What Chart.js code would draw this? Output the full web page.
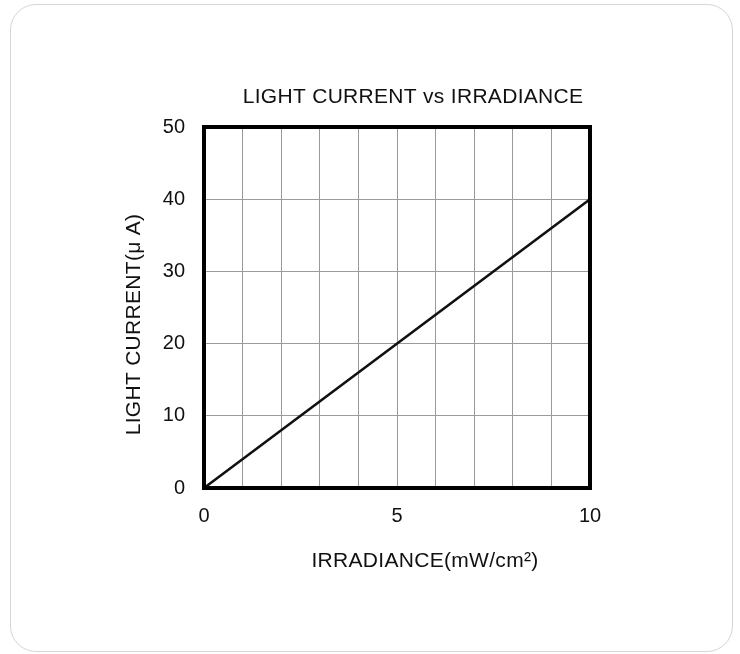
<!DOCTYPE html>
<html>
<head>
<meta charset="utf-8">
<script src="https://cdn.jsdelivr.net/npm/chart.js@4/dist/chart.umd.min.js"></script>
<style>
  html, body { margin:0; padding:0; background:#fff; }
  #wrap { position:relative; width:740px; height:654px; overflow:hidden; }
  #card { position:absolute; left:10px; top:4px; width:721px; height:646px;
          border:1.5px solid #d6d6d6; border-radius:26px; background:#fff; }
  #c { position:absolute; left:0; top:0; }
</style>
</head>
<body>
<div id="wrap">
  <div id="card"></div>
  <canvas id="c" width="740" height="654"></canvas>
</div>
<script>
const chartTitle = 'LIGHT CURRENT vs IRRADIANCE';
const xTitle = 'IRRADIANCE(mW/cm²)';
const yTitle = 'LIGHT CURRENT(μ A)';
const irradiance = [0, 10];        // mW/cm²
const lightCurrent = [0, 40];      // μA
const xTickLabels = [0, 5, 10];
const yTickLabels = [0, 10, 20, 30, 40, 50];

const FONT = "'Liberation Sans', Arial, sans-serif";
const TXT = '#111';

const framePlugin = {
  id: 'frameAndTexts',
  afterDatasetsDraw(chart) {
    const {ctx, chartArea: a} = chart;
    ctx.save();
    ctx.strokeStyle = '#000';
    ctx.lineWidth = 4;
    ctx.lineJoin = 'miter';
    ctx.strokeRect(a.left, a.top, a.right - a.left, a.bottom - a.top);
    ctx.restore();
  },
  afterDraw(chart) {
    const {ctx, chartArea: a} = chart;
    ctx.save();
    ctx.fillStyle = TXT;
    ctx.font = '21px ' + FONT;
    try { ctx.letterSpacing = '0.3px'; } catch (e) {}
    ctx.textAlign = 'center';
    ctx.textBaseline = 'alphabetic';
    ctx.fillText(chartTitle, a.left + 209, a.top - 24);
    ctx.fillText(xTitle, a.left + 221, a.bottom + 79);
    ctx.translate(a.left - 64, (a.top + a.bottom) / 2 + 17);
    ctx.rotate(-Math.PI / 2);
    ctx.fillText(yTitle, 0, 0);
    ctx.restore();
  }
};

new Chart(document.getElementById('c'), {
  type: 'scatter',
  data: {
    datasets: [{
      data: irradiance.map((x, i) => ({x, y: lightCurrent[i]})),
      showLine: true,
      borderColor: '#111',
      borderWidth: 2.6,
      pointRadius: 0,
      tension: 0,
      clip: false
    }]
  },
  options: {
    responsive: false,
    animation: false,
    devicePixelRatio: 1,
    layout: { padding: { top: 127, right: 150, left: 0, bottom: 0 } },
    plugins: { legend: { display: false }, tooltip: { enabled: false }, title: { display: false } },
    scales: {
      x: {
        type: 'linear', min: 0, max: 10,
        afterFit(s) { s.height = 654 - 488; },
        grid: { color: '#9a9a9a', lineWidth: 1, drawTicks: false },
        border: { display: false },
        ticks: {
          stepSize: 1, padding: 16, color: TXT, maxRotation: 0, autoSkip: false,
          font: { size: 20, family: FONT },
          callback: v => xTickLabels.includes(v) ? String(v) : ''
        }
      },
      y: {
        type: 'linear', min: 0, max: 50,
        afterFit(s) { s.width = 204; },
        grid: { color: '#9a9a9a', lineWidth: 1, drawTicks: false },
        border: { display: false },
        ticks: {
          stepSize: 10, padding: 19, color: TXT,
          font: { size: 20, family: FONT },
          callback: v => yTickLabels.includes(v) ? String(v) : ''
        }
      }
    }
  },
  plugins: [framePlugin]
});
</script>
</body>
</html>
